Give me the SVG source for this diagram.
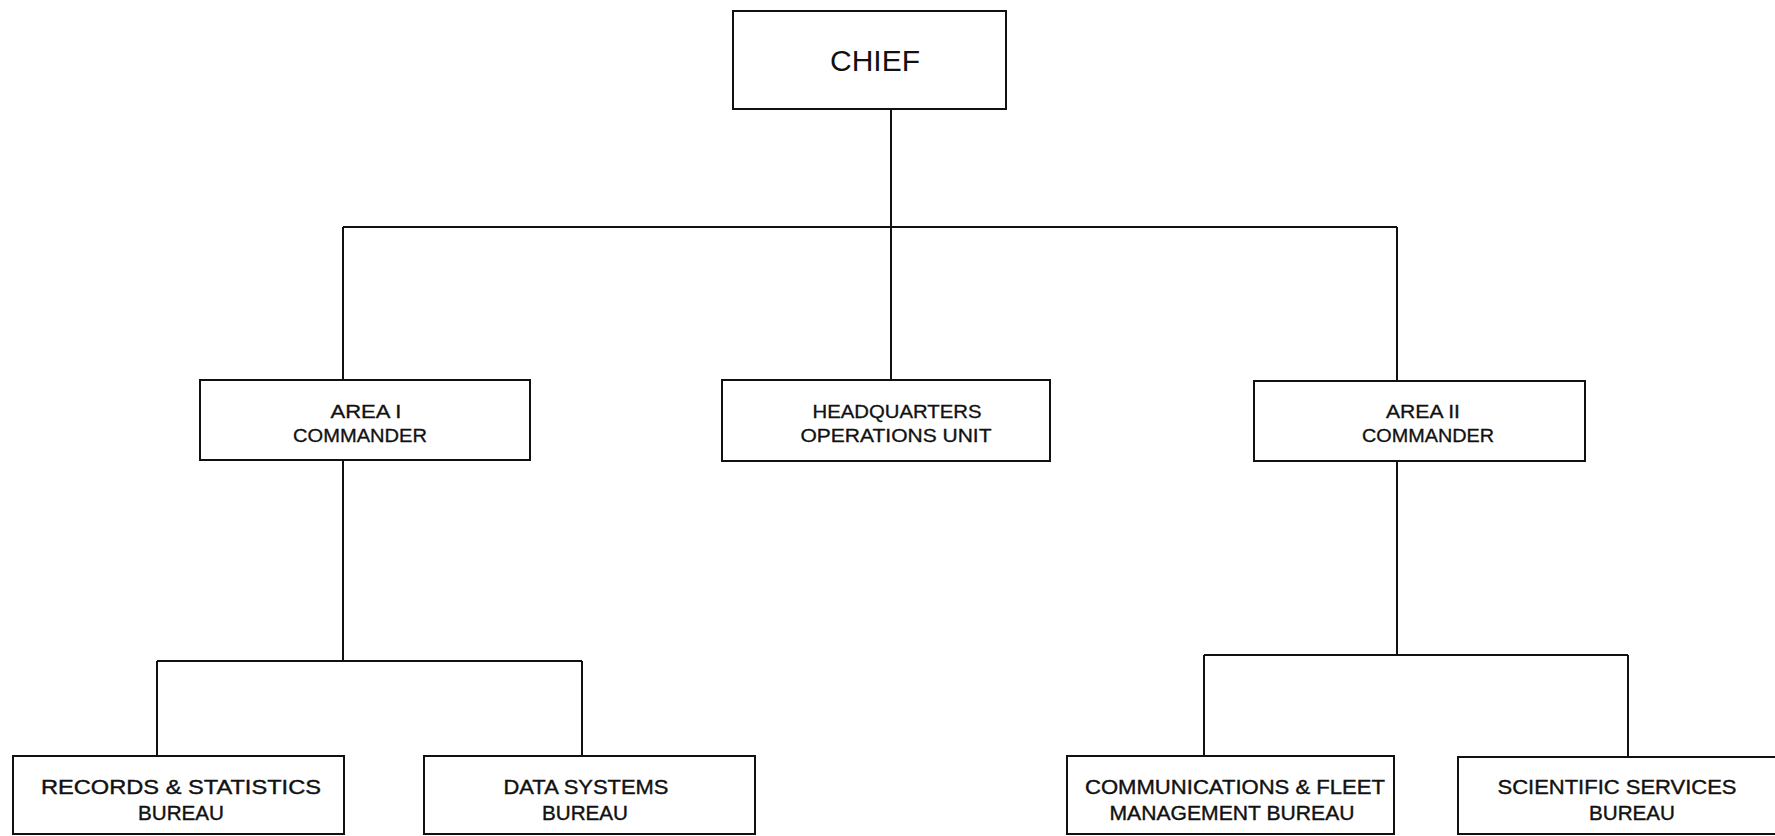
<svg xmlns="http://www.w3.org/2000/svg" width="1775" height="836" viewBox="0 0 1775 836">
<style>
.box{fill:#fff;stroke:#111;stroke-width:2}
.ln{stroke:#111;stroke-width:2;fill:none}
text{font-family:"Liberation Sans",Arial,sans-serif;fill:#111;text-anchor:middle}
.t0{font-size:30px}
.t1{font-size:18px;stroke:#111;stroke-width:0.3}
.t2{font-size:21px;stroke:#111;stroke-width:0.4}
</style>
<rect width="1775" height="836" fill="#fff"/>
<g id="connectors">
<line class="ln" x1="891" y1="109" x2="891" y2="227"/>
<line class="ln" x1="343" y1="227" x2="1397" y2="227"/>
<line class="ln" x1="343" y1="227" x2="343" y2="380"/>
<line class="ln" x1="891" y1="227" x2="891" y2="380"/>
<line class="ln" x1="1397" y1="227" x2="1397" y2="381"/>
<line class="ln" x1="343" y1="460" x2="343" y2="661"/>
<line class="ln" x1="157" y1="661" x2="582" y2="661"/>
<line class="ln" x1="157" y1="661" x2="157" y2="756"/>
<line class="ln" x1="582" y1="661" x2="582" y2="756"/>
<line class="ln" x1="1397" y1="461" x2="1397" y2="655"/>
<line class="ln" x1="1204" y1="655" x2="1628" y2="655"/>
<line class="ln" x1="1204" y1="655" x2="1204" y2="756"/>
<line class="ln" x1="1628" y1="655" x2="1628" y2="757"/>
</g>
<g id="chief">
<rect class="box" x="733" y="11" width="273" height="98"/>
<text class="t0" x="875" y="71" textLength="90" lengthAdjust="spacingAndGlyphs">CHIEF</text>
</g>
<g id="area1">
<rect class="box" x="200" y="380" width="330" height="80"/>
<text class="t1" x="366" y="418" textLength="71" lengthAdjust="spacingAndGlyphs">AREA I</text>
<text class="t1" x="360" y="442" textLength="134" lengthAdjust="spacingAndGlyphs">COMMANDER</text>
</g>
<g id="hq">
<rect class="box" x="722" y="380" width="328" height="81"/>
<text class="t1" x="897" y="418" textLength="169" lengthAdjust="spacingAndGlyphs">HEADQUARTERS</text>
<text class="t1" x="896" y="442" textLength="191" lengthAdjust="spacingAndGlyphs">OPERATIONS UNIT</text>
</g>
<g id="area2">
<rect class="box" x="1254" y="381" width="331" height="80"/>
<text class="t1" x="1423" y="418" textLength="74" lengthAdjust="spacingAndGlyphs">AREA II</text>
<text class="t1" x="1428" y="442" textLength="132" lengthAdjust="spacingAndGlyphs">COMMANDER</text>
</g>
<g id="records">
<rect class="box" x="13" y="756" width="331" height="78"/>
<text class="t2" x="181" y="794" textLength="280" lengthAdjust="spacingAndGlyphs">RECORDS &amp; STATISTICS</text>
<text class="t2" x="181" y="820" textLength="86" lengthAdjust="spacingAndGlyphs">BUREAU</text>
</g>
<g id="data">
<rect class="box" x="424" y="756" width="331" height="78"/>
<text class="t2" x="586" y="794" textLength="165" lengthAdjust="spacingAndGlyphs">DATA SYSTEMS</text>
<text class="t2" x="585" y="820" textLength="86" lengthAdjust="spacingAndGlyphs">BUREAU</text>
</g>
<g id="comms">
<rect class="box" x="1067" y="756" width="327" height="78"/>
<text class="t2" x="1235" y="794" textLength="300" lengthAdjust="spacingAndGlyphs">COMMUNICATIONS &amp; FLEET</text>
<text class="t2" x="1232" y="820" textLength="245" lengthAdjust="spacingAndGlyphs">MANAGEMENT BUREAU</text>
</g>
<g id="scientific">
<rect class="box" x="1458" y="757" width="330" height="77"/>
<text class="t2" x="1617" y="794" textLength="239" lengthAdjust="spacingAndGlyphs">SCIENTIFIC SERVICES</text>
<text class="t2" x="1632" y="820" textLength="86" lengthAdjust="spacingAndGlyphs">BUREAU</text>
</g>
</svg>
